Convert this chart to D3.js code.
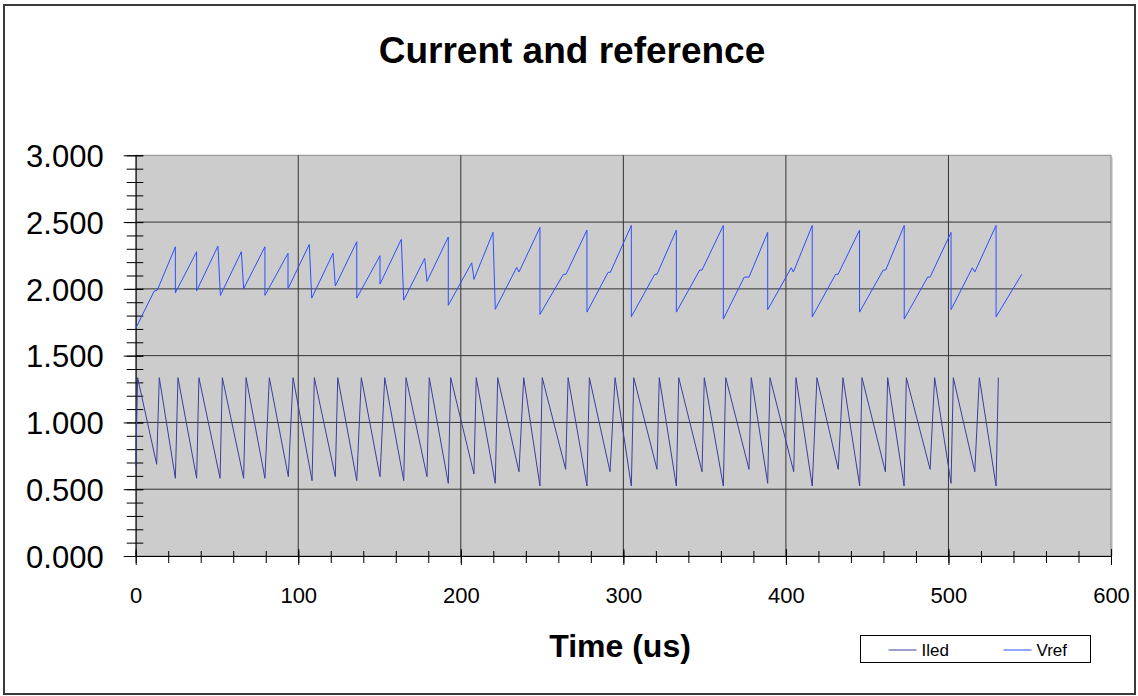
<!DOCTYPE html>
<html>
<head>
<meta charset="utf-8">
<script src="https://cdn.jsdelivr.net/npm/d3@7"></script>
<style>
  body { margin: 0; background: #fff; }
  text { font-family: "Liberation Sans", Arial, sans-serif; }
</style>
</head>
<body>
<svg id="chart" width="1138" height="696"></svg>
<script>
// readings: [time (us), value]
const iled = [
  [0, 0.674], [1.2, 1.335], [12.9, 0.686], [14.5, 1.335], [24.4, 0.582], [26.0, 1.335],
  [37.5, 0.582], [38.9, 1.335], [51.9, 0.582], [53.3, 1.335], [66.4, 0.582], [67.9, 1.335],
  [79.5, 0.582], [82.2, 1.335], [93.9, 0.594], [96.8, 1.335], [108.5, 0.564], [109.9, 1.335],
  [122.8, 0.594], [124.3, 1.335], [136.0, 0.564], [138.8, 1.335], [150.3, 0.594], [153.2, 1.335],
  [164.9, 0.564], [166.3, 1.335], [179.2, 0.594], [180.6, 1.335], [192.3, 0.544], [193.8, 1.335],
  [208.1, 0.614], [209.5, 1.335], [221.2, 0.544], [222.7, 1.335], [235.8, 0.631], [238.7, 1.335],
  [248.7, 0.524], [250.1, 1.335], [264.5, 0.649], [266.0, 1.335], [277.6, 0.524], [279.1, 1.335],
  [291.8, 0.631], [294.9, 1.335], [304.9, 0.524], [306.4, 1.335], [320.7, 0.649], [322.1, 1.335],
  [332.6, 0.524], [334.1, 1.335], [348.4, 0.631], [349.8, 1.335], [361.5, 0.524], [363.0, 1.335],
  [377.3, 0.649], [378.7, 1.335], [388.8, 0.544], [390.2, 1.335], [404.8, 0.631], [406.2, 1.335],
  [416.2, 0.524], [419.1, 1.335], [432.2, 0.649], [435.1, 1.335], [445.4, 0.524], [446.8, 1.335],
  [461.2, 0.631], [462.6, 1.335], [472.7, 0.524], [474.1, 1.335], [488.7, 0.649], [491.5, 1.335],
  [501.6, 0.544], [503.0, 1.335], [516.2, 0.631], [519.0, 1.335], [529.3, 0.524], [530.7, 1.335]
]

const vref = [
  [0, 1.704], [11.4, 1.984], [13.3, 1.991], [24.4, 2.315], [24.4, 1.971], [37.5, 2.278],
  [37.5, 1.986], [50.6, 2.320], [52.1, 1.951], [65.0, 2.278], [66.4, 2.001], [79.5, 2.315],
  [79.5, 1.951], [93.7, 2.266], [93.7, 2.001], [106.8, 2.333], [108.3, 1.931], [121.4, 2.266],
  [122.8, 2.021], [136.0, 2.353], [136.0, 1.931], [150.3, 2.248], [150.3, 2.036], [163.4, 2.371],
  [164.9, 1.916], [177.8, 2.228], [179.2, 2.056], [192.3, 2.388], [192.3, 1.877], [206.7, 2.195],
  [208.1, 2.071], [219.8, 2.423], [221.2, 1.847], [234.4, 2.161], [235.8, 2.126], [248.7, 2.460],
  [248.7, 1.809], [263.1, 2.109], [264.7, 2.109], [277.6, 2.440], [277.6, 1.826], [290.6, 2.124],
  [292.0, 2.124], [304.9, 2.475], [304.9, 1.791], [319.3, 2.109], [320.7, 2.109], [332.6, 2.440],
  [332.6, 1.826], [347.0, 2.141], [348.4, 2.141], [361.5, 2.475], [361.5, 1.774], [374.4, 2.088],
  [377.3, 2.088], [388.8, 2.423], [388.8, 1.844], [403.3, 2.158], [404.6, 2.126], [416.2, 2.475],
  [416.2, 1.791], [430.6, 2.109], [432.1, 2.109], [445.3, 2.440], [445.3, 1.826], [459.9, 2.141],
  [461.4, 2.141], [472.8, 2.475], [472.8, 1.774], [487.2, 2.088], [488.7, 2.088], [501.6, 2.423],
  [501.6, 1.844], [514.7, 2.158], [516.2, 2.126], [529.3, 2.475], [529.3, 1.791], [545.1, 2.109]
]

const seriesNames = ["Iled", "Vref"]
const seriesColors = ["#3a3f9e", "#2b50ff"]
const xTicks = [0, 100, 200, 300, 400, 500, 600]
const yTicks = [0, 0.5, 1, 1.5, 2, 2.5, 3]

const plotLeft = 135.7
const plotRight = 1111
const plotTop = 155.3
const plotBottom = 556

const svg = d3.select("#chart")

// outer frame
svg.append("rect")
  .attr("x", 4).attr("y", 5)
  .attr("width", 1131).attr("height", 689)
  .attr("fill", "none")
  .attr("stroke", "#3a3a3a")
  .attr("stroke-width", 2)

const x = d3.scaleLinear().domain([0, 600]).range([plotLeft, plotRight])
const y = d3.scaleLinear().domain([0, 3]).range([plotBottom, plotTop])

// plot area, with a little shadow on the right
svg.append("rect")
  .attr("x", plotRight).attr("y", plotTop + 2)
  .attr("width", 2).attr("height", plotBottom - plotTop - 2)
  .attr("fill", "#d8d8d8")
svg.append("rect")
  .attr("x", plotLeft).attr("y", plotTop)
  .attr("width", plotRight - plotLeft).attr("height", plotBottom - plotTop)
  .attr("fill", "#cccccc")
  .attr("stroke", "#8a8a8a")
  .attr("stroke-width", 1)

// grid
svg.append("g")
  .selectAll("line")
  .data(yTicks.slice(1, -1))
  .enter().append("line")
  .attr("x1", plotLeft).attr("x2", plotRight)
  .attr("y1", d => y(d)).attr("y2", d => y(d))
  .attr("stroke", "#333")

svg.append("g")
  .selectAll("line")
  .data(xTicks.slice(1, -1))
  .enter().append("line")
  .attr("x1", d => x(d)).attr("x2", d => x(d))
  .attr("y1", plotTop).attr("y2", plotBottom)
  .attr("stroke", "#333")

// y axis: minor ticks every 0.1, major every 0.5
const yMinor = d3.range(0, 30.5).map(i => i / 10)
const yMinorAxis = svg.append("g")
  .attr("transform", `translate(${plotLeft},0)`)
  .call(d3.axisLeft(y).tickValues(yMinor).tickSize(9).tickSizeOuter(0).tickFormat(""))
yMinorAxis.selectAll(".tick line").attr("x1", 7.6).attr("stroke", "#000")
yMinorAxis.select(".domain").remove()

const yAxis = svg.append("g")
  .attr("transform", `translate(${plotLeft},0)`)
  .call(d3.axisLeft(y).tickValues(yTicks).tickSize(12).tickSizeOuter(0).tickPadding(20).tickFormat(d3.format(".3f")))
yAxis.selectAll(".tick line").attr("x1", 7.6).attr("stroke", "#000")
yAxis.select(".domain").attr("stroke", "#000")
yAxis.selectAll("text")
  .attr("font-size", 31)
  .attr("font-family", "Liberation Sans, Arial, sans-serif")
  .attr("fill", "#000")
  .attr("dy", "0.36em")

// x axis: minor ticks every 20
const xMinor = d3.range(0, 601, 20)
const xMinorAxis = svg.append("g")
  .attr("transform", `translate(0,${plotBottom})`)
  .call(d3.axisBottom(x).tickValues(xMinor).tickSize(7).tickSizeOuter(0).tickFormat(""))
xMinorAxis.selectAll(".tick line").attr("y1", -5).attr("stroke", "#000")
xMinorAxis.select(".domain").remove()

const xAxis = svg.append("g")
  .attr("transform", `translate(0,${plotBottom})`)
  .call(d3.axisBottom(x).tickValues(xTicks).tickSize(9).tickSizeOuter(0).tickPadding(22))
xAxis.selectAll(".tick line").attr("y1", -7).attr("stroke", "#000")
xAxis.select(".domain").attr("stroke", "#000")
xAxis.selectAll("text")
  .attr("font-size", 22)
  .attr("font-family", "Liberation Sans, Arial, sans-serif")
  .attr("fill", "#000")

// series
const line = d3.line().x(d => x(d[0])).y(d => y(d[1]))
;[iled, vref].forEach((data, i) => {
  svg.append("path")
    .datum(data)
    .attr("fill", "none")
    .attr("stroke", seriesColors[i])
    .attr("stroke-width", 1)
    .attr("stroke-linejoin", "miter")
    .attr("d", line)
})

// titles
svg.append("text")
  .attr("x", 572).attr("y", 63)
  .attr("text-anchor", "middle")
  .attr("font-size", 37)
  .attr("font-weight", "bold")
  .text("Current and reference")

svg.append("text")
  .attr("x", 620).attr("y", 657)
  .attr("text-anchor", "middle")
  .attr("font-size", 32)
  .attr("font-weight", "bold")
  .text("Time (us)")

// legend
const legend = svg.append("g").attr("transform", "translate(860.5,635.5)")
legend.append("rect")
  .attr("width", 230).attr("height", 27)
  .attr("fill", "#fff")
  .attr("stroke", "#000")
  .attr("stroke-width", 1)

const legendX = [28, 143]
seriesNames.forEach((name, i) => {
  legend.append("line")
    .attr("x1", legendX[i]).attr("x2", legendX[i] + 28)
    .attr("y1", 14.5).attr("y2", 14.5)
    .attr("stroke", seriesColors[i])
  legend.append("text")
    .attr("x", legendX[i] + 33).attr("y", 20)
    .attr("font-size", 17)
    .text(name)
})
</script>
</body>
</html>
